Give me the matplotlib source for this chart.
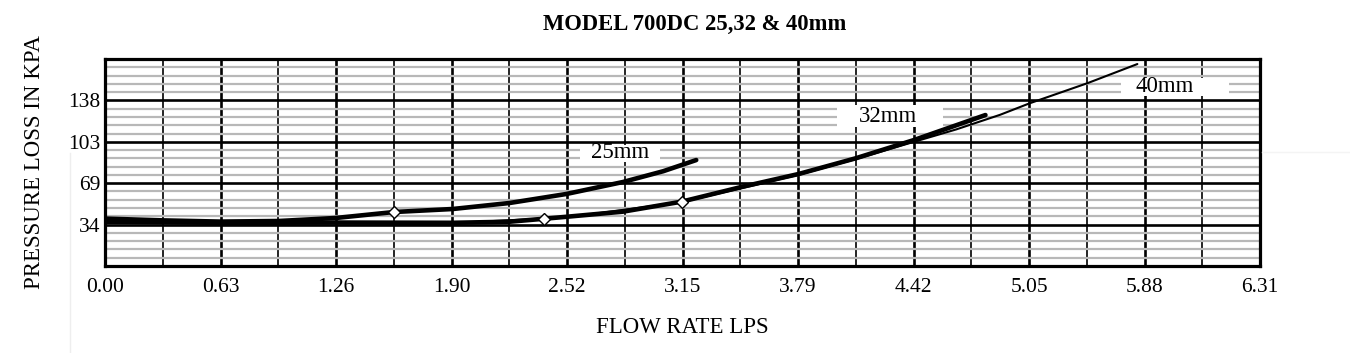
import matplotlib
matplotlib.use("Agg")
import matplotlib.pyplot as plt
from matplotlib.patches import Rectangle
from matplotlib.lines import Line2D

# ---- data (flow LPS, pressure loss kPa) ----
x_ticks_labels = ["0.00", "0.63", "1.26", "1.90", "2.52", "3.15", "3.79", "4.42", "5.05", "5.88", "6.31"]
y_tick_labels = ["34", "69", "103", "138"]

x25 = [0.00, 0.32, 0.63, 0.95, 1.26, 1.58, 1.90, 2.21, 2.52, 2.83, 3.05, 3.23]
y25 = [39.5, 38.0, 37.0, 37.5, 40.0, 45.0, 47.5, 52.5, 60.0, 70.0, 79.0, 88.3]

x32 = [0.00, 0.63, 1.26, 1.90, 2.21, 2.40, 2.52, 2.83, 3.15, 3.47, 3.79, 4.10, 4.42, 4.81]
y32 = [36.7, 36.0, 36.2, 36.0, 36.9, 39.4, 41.0, 45.3, 53.6, 65.6, 76.7, 89.7, 105.0, 125.8]

x40 = [0.00, 0.63, 1.26, 1.90, 2.52, 3.15, 3.79, 4.10, 4.42, 4.65, 4.89, 5.05, 5.37, 5.64]
y40 = [36.5, 35.8, 36.0, 35.8, 40.5, 53.2, 76.0, 89.0, 103.5, 113.8, 126.0, 135.5, 152.5, 168.3]

markers25_x = [1.58]
markers25_y = [45.0]
markers32_x = [2.40, 3.15]
markers32_y = [39.4, 53.6]

curve_labels = ["25mm", "32mm", "40mm"]

X_MAX = 6.31
Y_MAX = 172.5

plt.rcParams['font.family'] = ['Liberation Serif', 'DejaVu Serif']

fig = plt.figure(figsize=(13.5, 3.53), dpi=100)
ax = fig.add_axes([105/1350, 87/353, 1155/1350, 207/353])
ax.set_xlim(0, X_MAX)
ax.set_ylim(0, Y_MAX)

step_x = X_MAX / 10
ax.set_xticks([i * step_x for i in range(11)])
ax.set_xticklabels(x_ticks_labels)
ax.set_xticks([(i + 0.5) * step_x for i in range(10)], minor=True)

step_y = Y_MAX / 5
ax.set_yticks([step_y * (i + 1) for i in range(4)])
ax.set_yticklabels(y_tick_labels)
ax.set_yticks([step_y * i / 5 for i in range(1, 25) if i % 5 != 0], minor=True)

ax.tick_params(which='both', length=0)
ax.tick_params(axis='x', labelsize=15.5, pad=9)
ax.tick_params(axis='y', labelsize=15.5, pad=3)

ax.yaxis.grid(True, which='minor', color='#b8b8b8', lw=1.6, zorder=0)
ax.xaxis.grid(True, which='minor', color='black', lw=1.2, zorder=1)
ax.grid(True, which='major', color='black', lw=1.9, zorder=1)
ax.set_axisbelow(True)
for s in ax.spines.values():
    s.set_linewidth(2.3)
    s.set_zorder(5)

# curves
ax.plot(x40, y40, color='black', lw=1.5, zorder=3, solid_capstyle='round')
ax.plot(x32, y32, color='black', lw=3.3, zorder=4, solid_capstyle='round')
ax.plot(x25, y25, color='black', lw=3.3, zorder=4, solid_capstyle='round')
ax.plot(markers25_x, markers25_y, ls='none', marker='D', ms=6, mfc='white', mec='black', mew=1.0, zorder=6)
ax.plot(markers32_x, markers32_y, ls='none', marker='D', ms=6, mfc='white', mec='black', mew=1.0, zorder=6)

# label boxes
boxes = [(2.595, 86.7, 0.437, 14.1), (4.00, 115.8, 0.578, 18.4), (5.55, 141.7, 0.59, 15.0)]
text_pos = [(2.813, 94.2), (4.278, 124.2), (5.79, 149.2)]
for (bx, by, bw, bh), (tx, ty), lab in zip(boxes, text_pos, curve_labels):
    ax.add_patch(Rectangle((bx, by), bw, bh, facecolor='white', edgecolor='none', zorder=2))
    ax.text(tx, ty, lab, ha='center', va='center', fontsize=16.5, zorder=7)

ax.set_xlabel("FLOW RATE LPS", fontsize=16.5, labelpad=14)
ax.set_ylabel("PRESSURE LOSS IN KPA", fontsize=16.5, labelpad=17)
fig.text(695/1350, 1 - 24/353, "MODEL 700DC 25,32 & 40mm", ha='center', va='center',
         fontsize=16.3, fontweight='bold')

# faint scan artifacts
fig.add_artist(Line2D([70/1350, 70/1350], [0, 1 - 153/353], color='#eeeeee', lw=1))
fig.add_artist(Line2D([1262/1350, 1], [1 - 152/353, 1 - 152/353], color='#f4f4f4', lw=1))

fig.savefig("out.png", dpi=100)
